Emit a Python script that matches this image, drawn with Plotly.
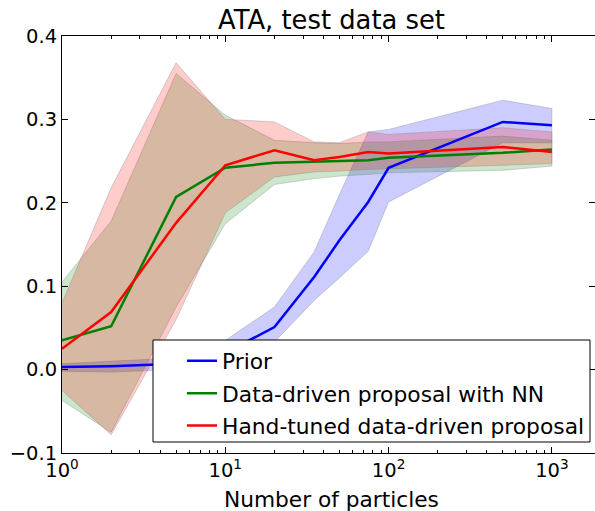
import plotly.graph_objects as go

particles = [1, 2, 5, 10, 20, 35, 50, 75, 100, 500, 1000]

prior_mean = [0.003, 0.004, 0.007, 0.020, 0.051, 0.111, 0.155, 0.201, 0.242, 0.297, 0.293]
prior_low = [-0.002, -0.003, 0.000, 0.006, 0.033, 0.083, 0.110, 0.142, 0.201, 0.272, 0.272]
prior_high = [0.007, 0.010, 0.014, 0.035, 0.075, 0.141, 0.210, 0.285, 0.288, 0.323, 0.313]

nn_mean = [0.035, 0.052, 0.207, 0.242, 0.248, 0.249, 0.250, 0.251, 0.254, 0.260, 0.264]
nn_low = [-0.037, -0.075, 0.075, 0.175, 0.222, 0.229, 0.232, 0.234, 0.236, 0.239, 0.244]
nn_high = [0.105, 0.178, 0.355, 0.305, 0.275, 0.272, 0.271, 0.273, 0.273, 0.280, 0.275]

hand_mean = [0.025, 0.069, 0.176, 0.245, 0.263, 0.251, 0.255, 0.261, 0.259, 0.267, 0.261]
hand_low = [-0.025, -0.078, 0.060, 0.188, 0.231, 0.237, 0.238, 0.240, 0.241, 0.245, 0.247]
hand_high = [0.080, 0.218, 0.368, 0.300, 0.297, 0.273, 0.272, 0.285, 0.282, 0.290, 0.285]

series = [
    ("Prior", prior_mean, prior_low, prior_high, "#0000ff", "rgba(0,0,255,0.2)"),
    ("Data-driven proposal with NN", nn_mean, nn_low, nn_high, "#008000", "rgba(0,128,0,0.2)"),
    ("Hand-tuned data-driven proposal", hand_mean, hand_low, hand_high, "#ff0000", "rgba(255,0,0,0.2)"),
]

FONT = "DejaVu Sans"
TICK_SIZE = 19.5
fig = go.Figure()

for name, m, lo, hi, col, fillc in series:
    fig.add_trace(go.Scatter(
        x=particles + particles[::-1], y=hi + lo[::-1],
        fill="toself", fillcolor=fillc, mode="lines",
        line=dict(color="rgba(128,128,128,0.35)", width=1),
        showlegend=False, hoverinfo="skip"))

for i, (name, m, lo, hi, col, fillc) in enumerate(series):
    fig.add_trace(go.Scatter(
        x=particles, y=m, mode="lines", name=name,
        line=dict(color=col, width=2.5), legendgroup=f"g{i}"))

fig.update_layout(
    width=595, height=511,
    margin=dict(l=62, r=0, t=36, b=58),
    paper_bgcolor="white", plot_bgcolor="white",
    font=dict(family=FONT, size=TICK_SIZE, color="black"),
    title=dict(text="ATA, test data set", x=0.5056, xanchor="center",
               y=0.961, yanchor="middle", xref="paper", yref="container",
               font=dict(size=25.8, family=FONT, color="black")),
    showlegend=True,
    legend=dict(x=0.9906, y=0.014, xanchor="right", yanchor="bottom",
                borderwidth=0, bgcolor="rgba(0,0,0,0)",
                font=dict(size=21.8, family=FONT), tracegroupgap=1,
                itemwidth=30),
)

# legend frame (matplotlib-style box)
fig.add_shape(type="rect", xref="paper", yref="paper",
              x0=(153 - 62) / 533, x1=(590 - 62) / 533,
              y0=(453 - 442) / 417, y1=(453 - 340) / 417,
              line=dict(color="black", width=1), fillcolor="white", layer="above")

fig.update_xaxes(
    type="log", range=[0, 3.264],
    tickvals=[1, 10, 100, 1000],
    ticktext=["10<sup>0</sup>", "10<sup>1</sup>", "10<sup>2</sup>", "10<sup>3</sup>"],
    ticks="inside", ticklen=6, tickwidth=1, tickcolor="black",
    minor=dict(ticks="inside", ticklen=3, tickcolor="black",
               tickvals=[2, 3, 4, 5, 6, 7, 8, 9, 20, 30, 40, 50, 60, 70, 80, 90,
                         200, 300, 400, 500, 600, 700, 800, 900, 2000]),
    showline=True, linecolor="black", linewidth=1, mirror="allticks",
    showgrid=False, zeroline=False,
    tickfont=dict(size=TICK_SIZE, family=FONT),
)
fig.update_yaxes(
    range=[-0.1, 0.4], dtick=0.1, tick0=0, tickformat=".1f",
    ticks="inside", ticklen=6, tickwidth=1, tickcolor="black",
    showline=True, linecolor="black", linewidth=1, mirror="allticks",
    showgrid=False, zeroline=False,
    tickfont=dict(size=TICK_SIZE, family=FONT),
)

fig.add_annotation(text="Number of particles", xref="paper", yref="paper",
                   x=0.5056, y=0, yshift=-46, xanchor="center", yanchor="middle",
                   showarrow=False, font=dict(size=21.7, family=FONT, color="black"))

fig.write_html("out.html")
